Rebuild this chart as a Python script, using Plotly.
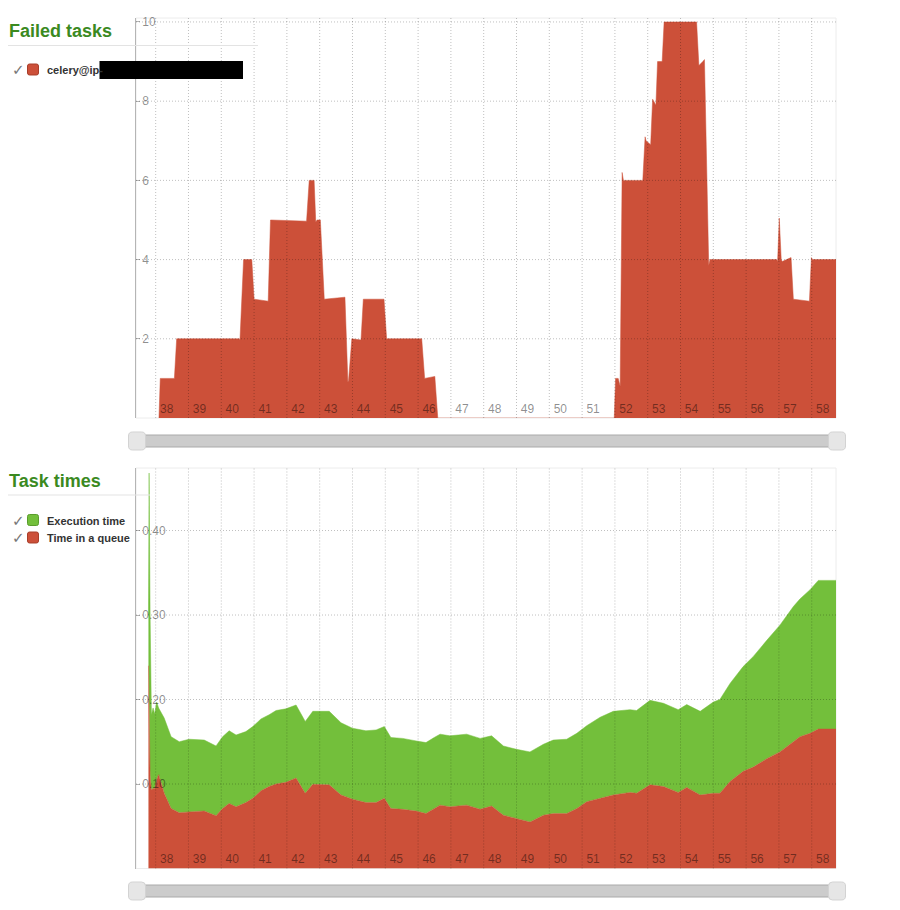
import plotly.graph_objects as go

# the page body has an 8px margin on every side, so the figure is 16px smaller
# and every page pixel position below is shifted by 8
OFF = 8
W, H = 900 - 2 * OFF, 910 - 2 * OFF
FONT = 'Liberation Sans, Arial, sans-serif'
RED = '#cc5039'
GREEN = '#73bf3b'

# failed tasks (minute of the hour, count)
failed_min = [38.10, 38.14, 38.57, 38.64, 40.55, 40.57, 40.68, 40.93, 41.00, 41.43, 41.50, 42.60, 42.68, 42.83, 42.88, 42.92,
              43.02, 43.14, 43.77, 43.86, 43.88, 43.98, 44.26, 44.33, 44.96, 45.04, 46.11, 46.20, 46.51, 46.60, 51.98, 52.02,
              52.10, 52.16, 52.22, 52.26, 52.85, 52.92, 52.95, 53.09, 53.15, 53.25, 53.30, 53.44, 53.50, 54.49, 54.56, 54.68,
              54.73, 54.86, 54.90, 56.93, 56.96, 57.01, 57.07, 57.10, 57.37, 57.44, 57.93, 57.99, 58.02, 58.74]
failed_cnt = [0, 1.0, 1.0, 2.0, 2.0, 1.97, 4.0, 4.0, 3.0, 2.95, 5.0, 4.97, 6.0, 6.0, 4.95, 5.0,
              5.0, 3.0, 3.05, 0.9, 0.95, 2.0, 1.97, 3.0, 3.0, 2.0, 2.0, 1.0, 1.05, 0, 0, 1.0,
              1.0, 0.8, 6.2, 6.0, 6.0, 7.1, 7.0, 6.9, 8.05, 7.9, 9.0, 9.0, 10.0, 10.0, 8.9, 9.0,
              9.05, 3.85, 4.0, 4.0, 3.95, 5.05, 4.0, 3.95, 4.05, 3.0, 2.95, 4.05, 4.0, 4.0]

# task times (minute, seconds)
times_min = [37.78, 37.80, 37.83, 37.87, 37.92, 37.97, 38.03, 38.09, 38.26, 38.47, 38.72, 39.02, 39.48, 39.84, 40.04, 40.24,
             40.45, 40.75, 40.96, 41.21, 41.46, 41.67, 41.97, 42.28, 42.56, 42.79, 43.29, 43.65, 44.00, 44.41, 44.72, 44.97,
             45.17, 45.53, 45.94, 46.24, 46.49, 46.67, 46.97, 47.48, 47.89, 48.24, 48.60, 49.00, 49.41, 49.82, 50.12, 50.53,
             50.84, 51.14, 51.55, 51.95, 52.46, 52.66, 53.07, 53.48, 53.93, 54.19, 54.60, 55.00, 55.20, 55.51, 55.91, 56.22,
             56.63, 57.03, 57.44, 57.64, 57.95, 58.20, 58.74]
queue_time = [0.24, 0.17, 0.11, 0.093, 0.095, 0.094, 0.105, 0.111, 0.089, 0.071, 0.066, 0.067, 0.068, 0.0625, 0.071, 0.077,
              0.073, 0.078, 0.083, 0.092, 0.097, 0.100, 0.102, 0.107, 0.089, 0.0996, 0.099, 0.087, 0.082, 0.078, 0.078, 0.083,
              0.071, 0.070, 0.068, 0.065, 0.071, 0.075, 0.073, 0.075, 0.070, 0.074, 0.063, 0.059, 0.055, 0.063, 0.065, 0.065,
              0.071, 0.079, 0.083, 0.087, 0.090, 0.089, 0.099, 0.097, 0.090, 0.096, 0.087, 0.089, 0.089, 0.103, 0.115, 0.120,
              0.130, 0.138, 0.150, 0.156, 0.160, 0.165, 0.165]
exec_time = [0.06, 0.298, 0.19, 0.089, 0.095, 0.089, 0.092, 0.079, 0.089, 0.085, 0.084, 0.086, 0.084, 0.0825, 0.085, 0.086,
             0.085, 0.084, 0.085, 0.085, 0.085, 0.087, 0.087, 0.0865, 0.085, 0.0864, 0.087, 0.0855, 0.084, 0.085, 0.086, 0.085,
             0.084, 0.084, 0.083, 0.084, 0.084, 0.084, 0.084, 0.084, 0.084, 0.083, 0.082, 0.082, 0.083, 0.084, 0.087, 0.088,
             0.089, 0.090, 0.096, 0.099, 0.098, 0.098, 0.100, 0.0985, 0.098, 0.098, 0.099, 0.108, 0.111, 0.116, 0.124, 0.131,
             0.140, 0.150, 0.160, 0.163, 0.170, 0.176, 0.176]

minute_ticks = list(range(38, 59))
minute_labels = [str(m) for m in minute_ticks]
failed_ticks = [2, 4, 6, 8, 10]
# figure space pads the single digits so the right aligned labels start where "10" starts
failed_labels = ['2\u2007', '4\u2007', '6\u2007', '8\u2007', '10']
time_ticks = [0.1, 0.2, 0.3, 0.4]
time_labels = ['0.10', '0.20', '0.30', '0.40']


# page pixel -> paper helpers
def px(x):
    return (x - OFF) / W


def py(y):
    return 1 - (y - OFF) / H


def pt(x, y):
    return '%.5f,%.5f' % (px(x), py(y))


def rounded(x0, y0, x1, y1, r):
    return ('M' + pt(x0 + r, y0) + ' L' + pt(x1 - r, y0) + ' Q' + pt(x1, y0) + ' ' + pt(x1, y0 + r) +
            ' L' + pt(x1, y1 - r) + ' Q' + pt(x1, y1) + ' ' + pt(x1 - r, y1) +
            ' L' + pt(x0 + r, y1) + ' Q' + pt(x0, y1) + ' ' + pt(x0, y1 - r) +
            ' L' + pt(x0, y0 + r) + ' Q' + pt(x0, y0) + ' ' + pt(x0 + r, y0) + ' Z')


fig = go.Figure()

fig.add_trace(go.Scatter(x=failed_min, y=failed_cnt, mode='lines', fill='tozeroy', fillcolor=RED,
                         line=dict(color=RED, width=0.5), xaxis='x', yaxis='y', name='celery@ip-'))
fig.add_trace(go.Scatter(x=times_min, y=queue_time, mode='lines', stackgroup='t', fillcolor=RED,
                         line=dict(color=RED, width=0.5), xaxis='x2', yaxis='y2', name='Time in a queue'))
fig.add_trace(go.Scatter(x=times_min, y=exec_time, mode='lines', stackgroup='t', fillcolor=GREEN,
                         line=dict(color=GREEN, width=0.5), xaxis='x2', yaxis='y2', name='Execution time'))

tickfont = dict(family=FONT, size=12, color='rgba(0,0,0,0.45)')
xbase = dict(range=[37.4, 58.74], tickvals=minute_ticks, ticktext=minute_labels, ticks='',
             ticklabelposition='inside', ticklabelshift=11, ticklabelstandoff=0, automargin=False,
             showgrid=False, zeroline=False, showline=False, tickfont=tickfont, fixedrange=True)
# y labels are "outside" labels pulled into the plot: plotly hides inside labels that touch the plot edge
ybase = dict(ticks='inside', ticklen=4, tickcolor='#b5b5b5', ticklabelposition='outside', automargin=False,
             showline=True, linecolor='#b5b5b5', linewidth=1, showgrid=False, zeroline=False,
             tickfont=tickfont, fixedrange=True)

fig.update_layout(
    width=W, height=H, margin=dict(l=0, r=0, t=0, b=0, autoexpand=False),
    paper_bgcolor='white', plot_bgcolor='white', showlegend=False, hovermode=False,
    xaxis=dict(xbase, domain=[px(136), px(836)], anchor='y'),
    yaxis=dict(ybase, domain=[py(418), py(18)], range=[0, 10.1], tickvals=failed_ticks,
               ticktext=failed_labels, ticklabelstandoff=-23, anchor='x'),
    xaxis2=dict(xbase, domain=[px(136), px(836)], anchor='y2'),
    yaxis2=dict(ybase, domain=[py(868.5), py(468)], range=[0, 0.474], tickvals=time_ticks,
                ticktext=time_labels, ticklabelstandoff=-33, anchor='x2'),
)

shapes = []
# plot frames and dotted grid drawn over the areas
for xr, yr in [('x', 'y'), ('x2', 'y2')]:
    shapes.append(dict(type='rect', xref=xr + ' domain', yref=yr + ' domain', x0=0, x1=1, y0=0, y1=1,
                       line=dict(color='#ececec', width=1), layer='below'))
    for t in minute_ticks:
        shapes.append(dict(type='line', xref=xr, yref=yr + ' domain', x0=t, x1=t, y0=0, y1=1,
                           line=dict(color='rgba(0,0,0,0.25)', width=1, dash='1px,2px'), layer='above'))
for t in failed_ticks:
    shapes.append(dict(type='line', xref='x domain', yref='y', x0=0, x1=1, y0=t, y1=t,
                       line=dict(color='rgba(0,0,0,0.25)', width=1, dash='1px,2px'), layer='above'))
for t in time_ticks:
    shapes.append(dict(type='line', xref='x2 domain', yref='y2', x0=0, x1=1, y0=t, y1=t,
                       line=dict(color='rgba(0,0,0,0.25)', width=1, dash='1px,2px'), layer='above'))

# title underlines
shapes.append(dict(type='line', xref='paper', yref='paper', x0=px(8), x1=px(258), y0=py(45.5), y1=py(45.5),
                   line=dict(color='#e3e3e3', width=1)))
shapes.append(dict(type='line', xref='paper', yref='paper', x0=px(8), x1=px(150), y0=py(495), y1=py(495),
                   line=dict(color='#e3e3e3', width=1)))

# range sliders under each chart
for y0 in [435, 885]:
    shapes.append(dict(type='rect', xref='paper', yref='paper', x0=px(130), x1=px(845), y0=py(y0), y1=py(y0 + 12),
                       fillcolor='#cccccc', line=dict(color='#aaaaaa', width=1)))
    for hx in [128.5, 828.5]:
        shapes.append(dict(type='path', xref='paper', yref='paper', path=rounded(hx, y0 - 3, hx + 17, y0 + 15, 4),
                           fillcolor='#e6e6e6', line=dict(color='#d3d3d3', width=1)))

# legend swatches
for y0, col, edge in [(64, RED, '#a83e2a'), (514.5, GREEN, '#5a9c2c'), (532, RED, '#a83e2a')]:
    shapes.append(dict(type='path', xref='paper', yref='paper', path=rounded(27.5, y0, 38.5, y0 + 11, 2),
                       fillcolor=col, line=dict(color=edge, width=1)))

# redacted worker hostname
shapes.append(dict(type='rect', xref='paper', yref='paper', x0=px(99.5), x1=px(243), y0=py(61), y1=py(79),
                   fillcolor='black', line=dict(width=0)))
fig.update_layout(shapes=shapes)

ann = []
ann.append(dict(text='<b>Failed tasks</b>', x=px(7), y=py(31), font=dict(family=FONT, size=18, color='#3b8a1f')))
ann.append(dict(text='<b>Task times</b>', x=px(7), y=py(481), font=dict(family=FONT, size=18, color='#3b8a1f')))
for yy, label in [(70.5, 'celery@ip-'), (520.5, 'Execution time'), (538, 'Time in a queue')]:
    ann.append(dict(text='\u2713', x=px(10), y=py(yy), font=dict(family='DejaVu Sans', size=15, color='#777777')))
    ann.append(dict(text='<b>' + label + '</b>', x=px(44.5), y=py(yy), font=dict(family=FONT, size=11, color='#333333')))
for a in ann:
    a.update(xref='paper', yref='paper', xanchor='left', yanchor='middle', showarrow=False)
fig.update_layout(annotations=ann)

fig.write_html('out.html', config={'displayModeBar': False})
